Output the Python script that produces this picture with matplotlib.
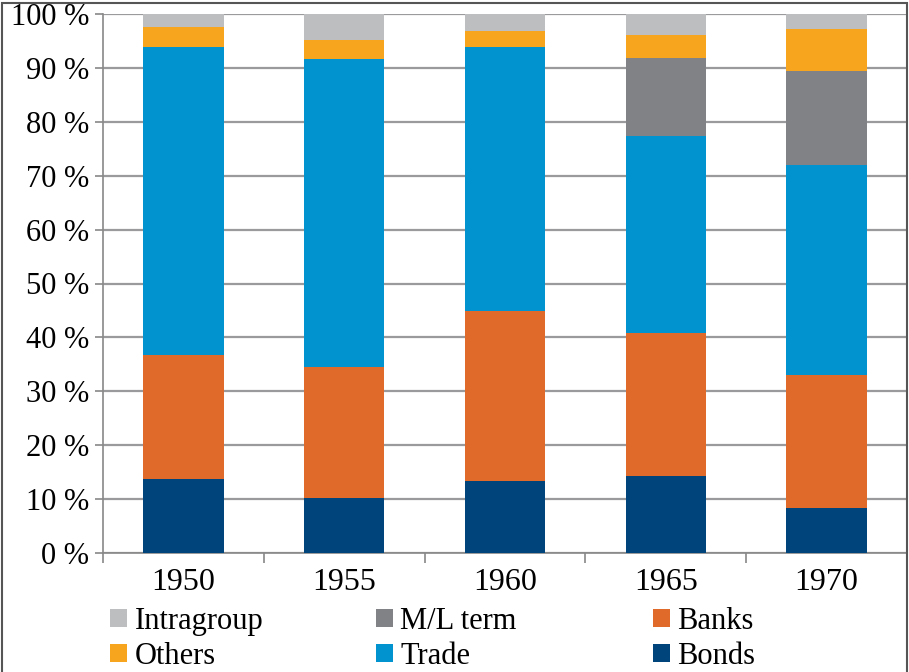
import matplotlib.pyplot as plt
import numpy as np
from matplotlib.patches import Rectangle

years = ["1950", "1955", "1960", "1965", "1970"]
bonds = [13.7, 10.2, 13.4, 14.3, 8.3]
banks = [23.0, 24.3, 31.5, 26.5, 24.7]
trade = [57.2, 57.2, 49.0, 36.6, 39.0]
ml_term = [0.0, 0.0, 0.0, 14.4, 17.4]
others = [3.7, 3.5, 2.9, 4.3, 7.8]
intragroup = [2.4, 4.8, 3.2, 3.9, 2.8]

series = [
    ("Bonds", bonds, "#00447c"),
    ("Banks", banks, "#df6a29"),
    ("Trade", trade, "#0093d0"),
    ("M/L term", ml_term, "#808285"),
    ("Others", others, "#f7a51e"),
    ("Intragroup", intragroup, "#bcbec0"),
]

plt.rcParams["font.family"] = ["Liberation Serif", "DejaVu Serif"]

fig = plt.figure(figsize=(9.09, 6.72), dpi=100)
ax = fig.add_axes([103 / 909, 1 - 553 / 672, 804 / 909, 539 / 672])

x = np.arange(len(years))
bottom = np.zeros(len(years))
handles = {}
for name, vals, color in series:
    vals = np.array(vals)
    h = ax.bar(x, vals, 0.5, bottom=bottom, color=color, label=name, zorder=3)
    handles[name] = h
    bottom += vals

ax.set_xlim(-0.5, len(years) - 0.5)
ax.set_ylim(0, 100)
ax.set_yticks(np.arange(0, 101, 10))
ax.set_yticklabels([f"{v} %" for v in range(0, 101, 10)], fontsize=22)
ax.set_xticks(x)
ax.set_xticklabels(years, fontsize=23)
ax.set_xticks(np.arange(-0.5, len(years), 1), minor=True)
ax.tick_params(axis="x", which="major", length=0, pad=11)
ax.tick_params(axis="x", which="minor", length=7, color="#888888", width=1.2)
ax.tick_params(axis="y", length=6, color="#888888", width=1.2, pad=4)
ax.grid(axis="y", color="#9a9a9c", linewidth=1.6, zorder=0)
for s in ["top", "right"]:
    ax.spines[s].set_visible(False)
ax.spines["left"].set_color("#888888")
ax.spines["left"].set_linewidth(1.2)
ax.spines["bottom"].set_color("#888888")
ax.spines["bottom"].set_linewidth(1.2)

# three legend columns, placed like the original
columns = [("Intragroup", "Others"), ("M/L term", "Trade"), ("Banks", "Bonds")]
col_x = [110, 376, 653]
for names, px in zip(columns, col_x):
    fig.legend(
        [handles[n] for n in names],
        names,
        loc="center left",
        bbox_to_anchor=(px / 909, 1 - 639 / 672),
        frameon=False,
        fontsize=22,
        handlelength=0.55,
        handleheight=0.55,
        handletextpad=0.25,
        labelspacing=0.2,
        borderpad=0,
        borderaxespad=0,
    )

fig.patches.append(
    Rectangle((0.002, -0.01), 0.996, 1.005, transform=fig.transFigure,
              fill=False, edgecolor="#555555", linewidth=1.5)
)

fig.savefig("out.png", dpi=100, facecolor="white")
